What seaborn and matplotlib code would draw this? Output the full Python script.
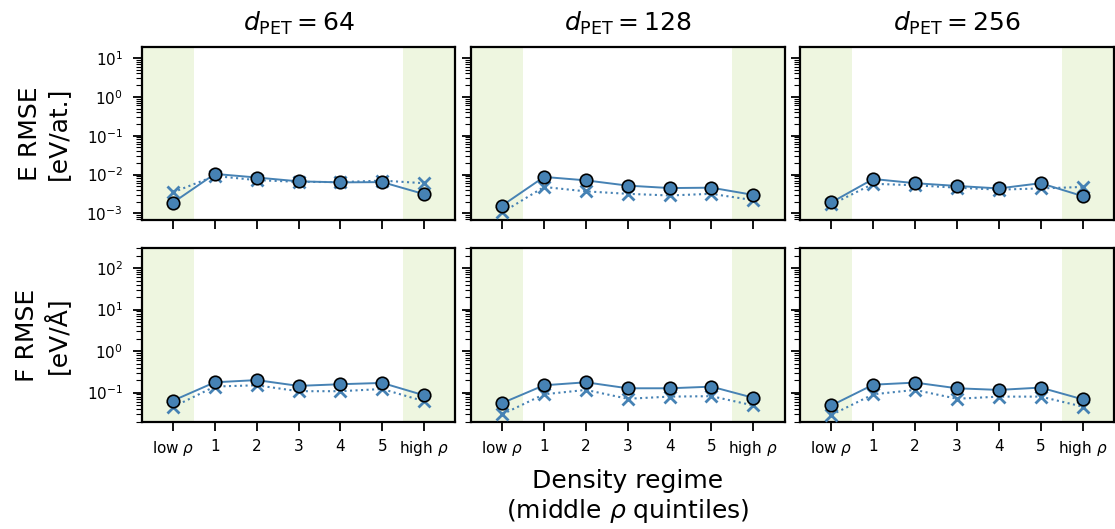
import numpy as np
import pandas as pd
import matplotlib
matplotlib.use("Agg")
import matplotlib.pyplot as plt
import seaborn as sns

sns.set_style("ticks")
plt.rcParams['font.family'] = ['DejaVu Sans']
plt.rcParams['mathtext.fontset'] = 'dejavusans'
for k in ['text.color', 'axes.labelcolor', 'xtick.color', 'ytick.color', 'axes.edgecolor']:
    plt.rcParams[k] = 'black'

categories = ["low $\\rho$", "1", "2", "3", "4", "5", "high $\\rho$"]
d_pet = [64, 128, 256]

# Energy RMSE (eV/at.) - circles (solid) and crosses (dotted)
e_circle = {
    64:  [1.9e-3, 1.04e-2, 8.4e-3, 6.7e-3, 6.3e-3, 6.4e-3, 3.15e-3],
    128: [1.6e-3, 8.7e-3, 7.1e-3, 5.2e-3, 4.5e-3, 4.6e-3, 3.0e-3],
    256: [1.93e-3, 7.7e-3, 6.0e-3, 5.1e-3, 4.4e-3, 6.0e-3, 2.8e-3],
}
e_cross = {
    64:  [3.5e-3, 9.2e-3, 7.2e-3, 6.5e-3, 6.4e-3, 7.0e-3, 6.0e-3],
    128: [1.06e-3, 4.8e-3, 3.7e-3, 3.2e-3, 2.9e-3, 3.2e-3, 2.2e-3],
    256: [1.7e-3, 5.8e-3, 5.3e-3, 4.6e-3, 4.1e-3, 4.4e-3, 4.8e-3],
}
# Force RMSE (eV/Å)
f_circle = {
    64:  [0.064, 0.177, 0.200, 0.145, 0.159, 0.171, 0.086],
    128: [0.056, 0.150, 0.177, 0.127, 0.127, 0.139, 0.075],
    256: [0.049, 0.155, 0.174, 0.127, 0.116, 0.132, 0.069],
}
f_cross = {
    64:  [0.045, 0.140, 0.150, 0.108, 0.108, 0.122, 0.062],
    128: [0.030, 0.091, 0.116, 0.071, 0.080, 0.082, 0.049],
    256: [0.029, 0.091, 0.116, 0.071, 0.080, 0.080, 0.046],
}

color = "#4682b4"
shade = "#eef6e0"

fig, axes = plt.subplots(2, 3, figsize=(11.15, 5.29), dpi=100, sharex=True, sharey='row')
fig.subplots_adjust(left=0.127, right=0.999, top=0.911, bottom=0.203, wspace=0.049, hspace=0.16)

x = np.arange(len(categories))
rows = [(e_circle, e_cross, "E RMSE\n[eV/at.]", (6.6e-4, 19)),
        (f_circle, f_cross, "F RMSE\n[eV/Å]", (0.02, 300))]

for r, (circ, cross, ylab, ylim) in enumerate(rows):
    for c, d in enumerate(d_pet):
        ax = axes[r, c]
        ax.axvspan(-0.75, 0.5, color=shade, lw=0, zorder=0)
        ax.axvspan(5.5, 6.75, color=shade, lw=0, zorder=0)
        df = pd.DataFrame({"x": x, "circle": circ[d], "cross": cross[d]})
        sns.lineplot(data=df, x="x", y="cross", ax=ax, color=color, linestyle=":",
                     marker="x", markersize=8, markeredgewidth=2, markeredgecolor=color,
                     lw=1.5, zorder=3)
        sns.lineplot(data=df, x="x", y="circle", ax=ax, color=color, linestyle="-",
                     marker="o", markersize=9, markeredgewidth=1.2, markeredgecolor="black",
                     markerfacecolor=color, lw=1.4, zorder=4)
        ax.set_yscale("log")
        ax.set_ylim(*ylim)
        ax.set_xlim(-0.75, 6.75)
        ax.set_xticks(x)
        ax.set_xticklabels(categories, fontsize=11)
        ax.tick_params(axis='both', which='major', length=6.5, width=1.3, labelsize=11)
        ax.tick_params(axis='x', which='major', pad=6)
        ax.tick_params(axis='y', which='major', pad=7)
        ax.tick_params(axis='y', which='minor', length=4, width=0.8)
        for s in ax.spines.values():
            s.set_linewidth(1.6)
            s.set_color("black")
        ax.set_xlabel("")
        ax.set_ylabel("")
        if c == 0:
            ax.set_ylabel(ylab, fontsize=18, labelpad=12)
        if r == 0:
            ax.set_title("$d_{\\mathrm{PET}} = %d$" % d, fontsize=18, pad=12)

axes[1, 1].set_xlabel("Density regime\n(middle $\\rho$ quintiles)", fontsize=18, labelpad=8)

fig.savefig("out.png", dpi=100)
